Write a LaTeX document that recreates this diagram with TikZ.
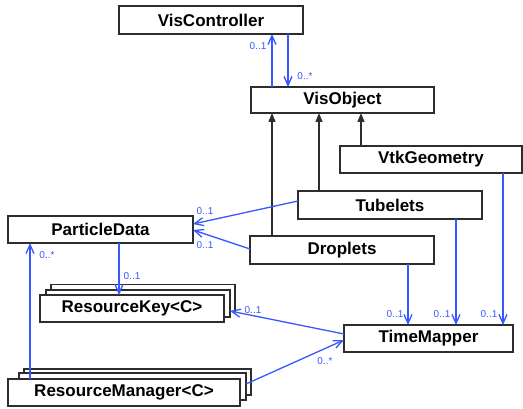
\documentclass[tikz,border=0pt]{standalone}
\usepackage{fontspec}
\setmainfont{Liberation Sans}
\usetikzlibrary{arrows.meta}
\definecolor{lnkblue}{RGB}{56,88,255}
\definecolor{boxline}{RGB}{45,45,45}
\begin{document}
\begin{tikzpicture}[x=1pt,y=-1pt,
  cls/.style={draw=boxline, line width=1.3pt, fill=white, inner sep=0pt, outer sep=0pt,
    font=\bfseries\fontsize{17}{19}\selectfont},
  back/.style={draw=boxline, line width=1.3pt, fill=white, inner sep=0pt, outer sep=0pt},
  assoc/.style={draw=lnkblue, line width=1.3pt, -{Straight Barb[length=9pt,width=8pt]}},
  inherit/.style={draw=boxline, line width=1.3pt, -{Triangle[length=9pt,width=7pt]}},
  mult/.style={text=lnkblue, font=\fontsize{10}{11}\selectfont, inner sep=0pt}]
\useasboundingbox (0,0) rectangle (523,409);
\fill[white] (0,0) rectangle (523,409);

% classes
\node[cls, minimum width=184pt, minimum height=28pt] (VisController) at (211,20) {VisController};
\node[cls, minimum width=183pt, minimum height=26pt] (VisObject) at (342.5,100) {VisObject};
\node[cls, minimum width=182pt, minimum height=27pt] (VtkGeometry) at (431,159.5) {VtkGeometry};
\node[cls, minimum width=184pt, minimum height=28pt] (Tubelets) at (390,205) {Tubelets};
\node[cls, minimum width=184pt, minimum height=28pt] (Droplets) at (342,250) {Droplets};
\node[cls, minimum width=185pt, minimum height=27pt] (ParticleData) at (100.5,229.5) {ParticleData};
\node[cls, minimum width=169pt, minimum height=27pt] (TimeMapper) at (428.5,338.5) {TimeMapper};

% ResourceKey stack
\node[back, minimum width=184pt, minimum height=27pt] (RK3) at (143,298) {};
\node[back, minimum width=184pt, minimum height=27pt] (RK2) at (138,303.5) {};
\node[cls, minimum width=184pt, minimum height=27pt] (ResourceKey) at (132,308.5) {ResourceKey<C>};

% ResourceManager stack
\node[back, minimum width=227pt, minimum height=26pt] (RM3) at (137.5,382) {};
\node[back, minimum width=227pt, minimum height=27pt] (RM2) at (132.5,386.5) {};
\node[cls, minimum width=232pt, minimum height=27pt] (ResourceManager) at (124,392.5) {ResourceManager<C>};

% VisController <-> VisObject
\draw[assoc] ([xshift=-70.5pt]VisObject.north) -- ([xshift=61pt]VisController.south);
\draw[assoc] ([xshift=77pt]VisController.south) -- ([xshift=-54.5pt]VisObject.north);
\node[mult] (m1) at (258,46) {0..1};
\node[mult] (m2) at (305,76) {0..*};

% inheritance
\draw[inherit] ([xshift=-70pt]Droplets.north) -- ([xshift=-70.5pt]VisObject.south);
\draw[inherit] ([xshift=-71pt]Tubelets.north) -- ([xshift=-23.5pt]VisObject.south);
\draw[inherit] ([xshift=-70pt]VtkGeometry.north) -- ([xshift=18.5pt]VisObject.south);

% to ParticleData
\draw[assoc] ([yshift=4pt]Tubelets.west) -- ([yshift=5.5pt]ParticleData.east);
\draw[assoc] ([yshift=1pt]Droplets.west) -- ([yshift=-0.5pt]ParticleData.east);
\node[mult] (m3) at (205,211) {0..1};
\node[mult] (m4) at (205,245) {0..1};

% ParticleData -> ResourceKey
\draw[assoc] ([xshift=18.5pt]ParticleData.south) -- ([xshift=-13pt]ResourceKey.north);
\node[mult] (m5) at (132,276) {0..1};

% ResourceManager -> ParticleData
\draw[assoc] ([xshift=-94pt]ResourceManager.north) -- ([xshift=-70.5pt]ParticleData.south);
\node[mult] (m6) at (47,255) {0..*};

% TimeMapper -> ResourceKey
\draw[assoc] ([yshift=4.5pt]TimeMapper.west) -- ([yshift=-7.5pt]RK2.east);
\node[mult] (m7) at (253,310) {0..1};

% ResourceManager -> TimeMapper
\draw[assoc] ([yshift=2.5pt]RM2.east) -- ([yshift=-1.5pt]TimeMapper.west);
\node[mult] (m8) at (325,361) {0..*};

% into TimeMapper
\draw[assoc] ([xshift=66pt]Droplets.south) -- ([xshift=-20.5pt]TimeMapper.north);
\draw[assoc] ([xshift=66pt]Tubelets.south) -- ([xshift=27.5pt]TimeMapper.north);
\draw[assoc] ([xshift=72pt]VtkGeometry.south) -- ([xshift=74.5pt]TimeMapper.north);
\node[mult] (m9) at (395,314) {0..1};
\node[mult] (m10) at (442,314) {0..1};
\node[mult] (m11) at (489,314) {0..1};
\end{tikzpicture}
\end{document}
